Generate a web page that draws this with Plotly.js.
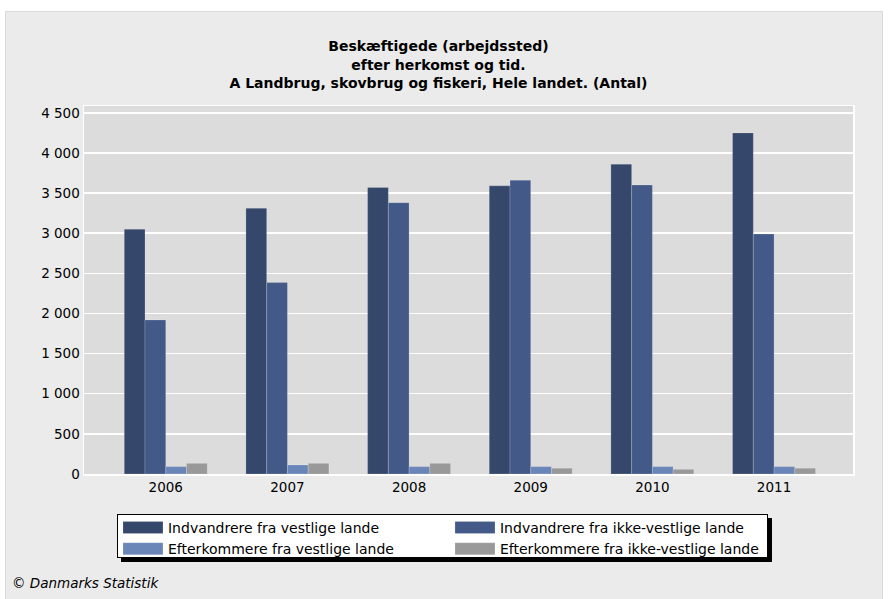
<!DOCTYPE html>
<html>
<head>
<meta charset="utf-8">
<script src="https://cdn.plot.ly/plotly-3.0.1.min.js"></script>
<style>
  html, body { margin: 0; padding: 0; background: #ffffff; width: 889px; height: 599px; overflow: hidden; }
  #chart { position: absolute; left: 6px; top: 12px; width: 876px; height: 587px; outline: 1px solid #d9d9d9; }
</style>
</head>
<body>
<div id="chart"></div>
<script>
const years = ["2006", "2007", "2008", "2009", "2010", "2011"];
const seriesNames = [
  "Indvandrere fra vestlige lande",
  "Indvandrere fra ikke-vestlige lande",
  "Efterkommere fra vestlige lande",
  "Efterkommere fra ikke-vestlige lande"
];
const indvVestlige = [3050, 3310, 3570, 3590, 3860, 4250];
const indvIkkeVestlige = [1920, 2385, 3380, 3660, 3600, 2990];
const efterVestlige = [92, 112, 92, 92, 92, 92];
const efterIkkeVestlige = [133, 133, 133, 72, 58, 72];
const yTickVals = [0, 500, 1000, 1500, 2000, 2500, 3000, 3500, 4000, 4500];

const colors = ["#35476b", "#435a88", "#6a86b8", "#999999"];
const allSeries = [indvVestlige, indvIkkeVestlige, efterVestlige, efterIkkeVestlige];

const traces = allSeries.map((vals, i) => ({
  type: "bar",
  name: seriesNames[i],
  x: years,
  y: vals,
  marker: { color: colors[i], line: { color: "rgba(255,255,255,0.18)", width: 1 } },
  hoverinfo: "x+y+name"
}));

const FONT = "DejaVu Sans, Verdana, sans-serif";

const layout = {
  width: 876,
  height: 587,
  margin: { l: 78, r: 29, t: 94, b: 125, autoexpand: false },
  paper_bgcolor: "#ebebeb",
  plot_bgcolor: "#dcdcdc",
  separators: ", ",
  font: { family: FONT, size: 13.5, color: "#000000" },
  title: {
    text: "<b>Beskæftigede (arbejdssted)<br>efter herkomst og tid.<br>A Landbrug, skovbrug og fiskeri, Hele landet. (Antal)</b>",
    font: { family: FONT, size: 14, color: "#000000" },
    x: 0.4937, xref: "container", xanchor: "center",
    y: 0.933, yref: "container", yanchor: "top"
  },
  barmode: "group",
  bargap: 0.318,
  bargroupgap: 0,
  xaxis: {
    type: "category",
    range: [-0.672, 5.649],
    showgrid: false,
    showline: true, linecolor: "#ffffff", linewidth: 1.5, mirror: true,
    ticks: "", tickfont: { size: 13.5 },
    zeroline: false, fixedrange: true
  },
  yaxis: {
    range: [0, 4585],
    tickvals: yTickVals,
    separatethousands: true,
    showgrid: true, gridcolor: "#ffffff", gridwidth: 1.5,
    showline: true, linecolor: "#ffffff", linewidth: 1.5, mirror: true,
    ticks: "", tickfont: { size: 13.5 },
    zeroline: false, fixedrange: true
  },
  showlegend: true,
  legend: {
    orientation: "h",
    x: 0.0429, xanchor: "left",
    y: -0.1004, yanchor: "top",
    bgcolor: "#ffffff",
    bordercolor: "#000000",
    borderwidth: 1,
    entrywidth: 277,
    itemwidth: 40,
    traceorder: "normal",
    font: { size: 14 }
  },
  annotations: [{
    text: "<i>© Danmarks Statistik</i>",
    xref: "paper", yref: "paper",
    x: -0.0962, y: -0.296, xanchor: "left", yanchor: "middle",
    showarrow: false,
    font: { family: FONT, size: 13.5, color: "#000000" }
  }]
};

Plotly.newPlot("chart", traces, layout, { displayModeBar: false, staticPlot: true }).then(() => {
  document.querySelectorAll("#chart .legend .bg").forEach(el => {
    el.style.filter = "drop-shadow(4px 4px 0px #000000)";
    el.setAttribute("y", "4");
    el.setAttribute("height", "43");
    el.setAttribute("width", "650");
  });
  document.querySelectorAll("#chart .legend .legendpoints path").forEach(el => {
    el.setAttribute("d", "M20,6H-20V-6H20Z");
  });
});
</script>
</body>
</html>
